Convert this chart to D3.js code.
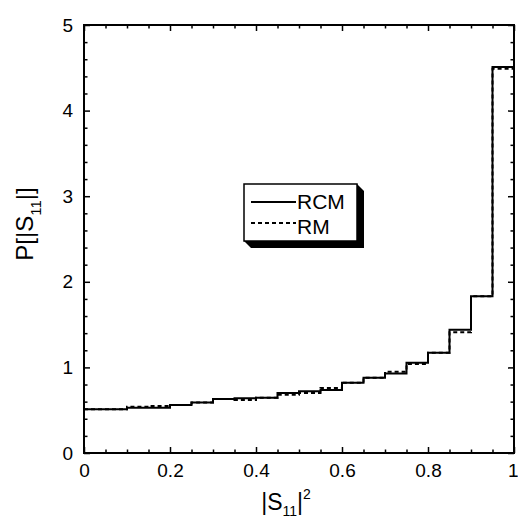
<!DOCTYPE html>
<html>
<head>
<meta charset="utf-8">
<script src="https://cdn.jsdelivr.net/npm/d3@7"></script>
<style>
  html, body { margin: 0; padding: 0; background: #fff; }
  svg { display: block; }
  text { font-family: "Liberation Sans", Arial, sans-serif; fill: #000; }
</style>
</head>
<body>
<svg id="chart" width="518" height="522"></svg>
<script>
// ---- data ----
const binEdges = [0, 0.05, 0.1, 0.15, 0.2, 0.25, 0.3, 0.35, 0.4, 0.45, 0.5,
                  0.55, 0.6, 0.65, 0.7, 0.75, 0.8, 0.85, 0.9, 0.95, 1.0];
const rcmValues = [0.51, 0.51, 0.53, 0.53, 0.56, 0.59, 0.63, 0.64, 0.645, 0.70,
                   0.72, 0.735, 0.82, 0.88, 0.93, 1.055, 1.17, 1.44, 1.83, 4.51];
const rmValues  = [0.51, 0.51, 0.54, 0.55, 0.56, 0.59, 0.63, 0.62, 0.645, 0.68,
                   0.70, 0.76, 0.82, 0.88, 0.95, 1.04, 1.17, 1.41, 1.83, 4.49];
const xMajorTicks = [0, 0.2, 0.4, 0.6, 0.8, 1];
const xTickLabels = ["0", "0.2", "0.4", "0.6", "0.8", "1"];
const yMajorTicks = [0, 1, 2, 3, 4, 5];
const yTickLabels = ["0", "1", "2", "3", "4", "5"];
const seriesNames = ["RCM", "RM"];

// ---- layout ----
const svg = d3.select("#chart");
const L = 84, R = 514, T = 25, B = 453;
const x = d3.scaleLinear().domain([0, 1]).range([L, R]);
const y = d3.scaleLinear().domain([0, 5]).range([B, T]);

const xMinor = d3.range(0, 1.0001, 0.05).filter(v => !xMajorTicks.some(m => Math.abs(m - v) < 1e-9));
const yMinor = d3.range(0, 5.0001, 0.2).filter(v => !yMajorTicks.some(m => Math.abs(m - v) < 1e-9));

// ---- data lines ----
function pts(vals) {
  const p = vals.map((v, i) => [binEdges[i], v]);
  p.push([binEdges[binEdges.length - 1], vals[vals.length - 1]]);
  return p;
}
const line = d3.line().x(d => x(d[0])).y(d => y(d[1])).curve(d3.curveStepAfter);

svg.append("path").attr("d", line(pts(rmValues)))
  .attr("fill", "none").attr("stroke", "#000").attr("stroke-width", 2)
  .attr("stroke-dasharray", "4,3");
svg.append("path").attr("d", line(pts(rcmValues)))
  .attr("fill", "none").attr("stroke", "#000").attr("stroke-width", 2);

// ---- axes (ticks inward on all sides) ----
function axis(gen, tr, major, minor, labels, showLabels) {
  const g = svg.append("g").attr("transform", tr);
  g.call(gen.tickValues(major).tickSizeInner(-6).tickSizeOuter(0)
    .tickFormat((d, i) => showLabels ? labels[i] : ""));
  g.select(".domain").remove();
  g.selectAll(".tick line").attr("stroke", "#000").attr("stroke-width", 1.5);
  g.selectAll(".tick text").attr("font-size", 19).attr("font-family", "Liberation Sans, Arial, sans-serif");
  const g2 = svg.append("g").attr("transform", tr);
  g2.call(gen.tickValues(minor).tickSizeInner(-3.5).tickSizeOuter(0).tickFormat(""));
  g2.select(".domain").remove();
  g2.selectAll(".tick line").attr("stroke", "#000").attr("stroke-width", 1.5);
  return g;
}
const gb = axis(d3.axisBottom(x), `translate(0,${B})`, xMajorTicks, xMinor, xTickLabels, true);
gb.selectAll(".tick text").attr("dy", "0.85em").attr("y", 8);
gb.selectAll(".tick text").filter(d => d === 1).attr("text-anchor", "end").attr("x", 4);
axis(d3.axisTop(x), `translate(0,${T})`, xMajorTicks, xMinor, xTickLabels, false);
const gl = axis(d3.axisLeft(y), `translate(${L},0)`, yMajorTicks, yMinor, yTickLabels, true);
gl.selectAll(".tick text").attr("x", -11);
axis(d3.axisRight(y), `translate(${R},0)`, yMajorTicks, yMinor, yTickLabels, false);

// frame
svg.append("rect").attr("x", L).attr("y", T).attr("width", R - L).attr("height", B - T)
  .attr("fill", "none").attr("stroke", "#000").attr("stroke-width", 2);

// ---- axis titles ----
const xt = svg.append("text").attr("x", 286).attr("y", 510).attr("font-size", 23).attr("text-anchor", "middle");
xt.append("tspan").text("|S");
xt.append("tspan").attr("font-size", 14).attr("dy", 6).text("11");
xt.append("tspan").attr("dy", -6).text("|");
xt.append("tspan").attr("font-size", 14).attr("dy", -11).text("2");

const yt = svg.append("text").attr("transform", "translate(33,224) rotate(-90)")
  .attr("font-size", 24).attr("text-anchor", "middle");
yt.append("tspan").text("P[|S");
yt.append("tspan").attr("font-size", 15).attr("dy", 8).text("11");
yt.append("tspan").attr("dy", -8).text("|]");

// ---- legend ----
const lx = 244, ly = 184, lw = 113, lh = 57, sh = 7;
svg.append("path")
  .attr("d", `M${lx + lw},${ly} L${lx + lw + sh},${ly + sh} L${lx + lw + sh},${ly + lh + sh} L${lx + sh},${ly + lh + sh} L${lx},${ly + lh} Z`)
  .attr("fill", "#000");
svg.append("rect").attr("x", lx).attr("y", ly).attr("width", lw).attr("height", lh)
  .attr("fill", "#fff").attr("stroke", "#000").attr("stroke-width", 1.5);
const legY = [202, 223];
const legTextY = [209, 234];
seriesNames.forEach((name, i) => {
  svg.append("line").attr("x1", 251).attr("x2", 296).attr("y1", legY[i]).attr("y2", legY[i])
    .attr("stroke", "#000").attr("stroke-width", 2)
    .attr("stroke-dasharray", i === 1 ? "4,3" : null);
  svg.append("text").attr("x", 297).attr("y", legTextY[i]).attr("font-size", 21).text(name);
});
</script>
</body>
</html>
